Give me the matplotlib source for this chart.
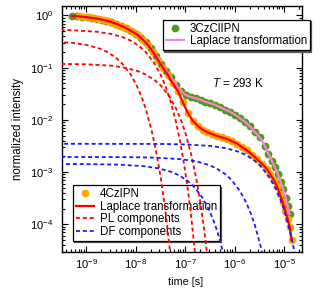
import matplotlib
matplotlib.use('Agg')
import matplotlib.pyplot as plt
from matplotlib.lines import Line2D
from matplotlib.ticker import NullFormatter

plt.rcParams['font.family'] = ['Liberation Sans', 'DejaVu Sans']
plt.rcParams['mathtext.fontset'] = 'custom'
plt.rcParams['mathtext.rm'] = 'Liberation Sans'
plt.rcParams['mathtext.it'] = 'Liberation Sans:italic'

# ---- measured data: 4CzIPN (log10 time, normalized intensity)
t_4cz_log = [-9.15, -9.05, -8.95, -8.85, -8.75, -8.65, -8.55, -8.45, -8.35, -8.25,
             -8.15, -8.05, -7.95, -7.85, -7.75, -7.65, -7.55, -7.45, -7.35, -7.25,
             -7.15, -7.05, -6.95, -6.85, -6.75, -6.65, -6.55, -6.45, -6.35, -6.25,
             -6.15, -6.05, -5.95, -5.85, -5.75, -5.65, -5.55, -5.45, -5.35, -5.28,
             -5.21, -5.15, -5.09, -5.03, -4.98, -4.93, -4.89, -4.85]
i_4cz = [0.96, 0.94, 0.915, 0.89, 0.86, 0.82, 0.775, 0.725, 0.67, 0.61,
         0.545, 0.48, 0.415, 0.34, 0.27, 0.2, 0.14, 0.1, 0.072, 0.05,
         0.036, 0.022, 0.0138, 0.0097, 0.0077, 0.0065, 0.0058, 0.0053, 0.0049, 0.0046,
         0.0043, 0.0039, 0.0035, 0.003, 0.0026, 0.00217, 0.00177, 0.00145, 0.00115, 0.0009,
         0.000706, 0.000542, 0.00038, 0.000267, 0.00018, 0.000126, 8.9e-05, 5.0e-05]

# ---- measured data: 3CzClIPN
t_3cz_log = [-9.29, -9.19, -9.09, -8.99, -8.89, -8.79, -8.69, -8.59, -8.49, -8.39,
             -8.29, -8.19, -8.09, -7.99, -7.89, -7.79, -7.69, -7.59, -7.49, -7.39,
             -7.29, -7.19, -7.09, -6.99, -6.89, -6.79, -6.69, -6.59, -6.49, -6.39,
             -6.29, -6.19, -6.09, -5.99, -5.89, -5.79, -5.69, -5.59, -5.49, -5.39,
             -5.32, -5.25, -5.19, -5.13, -5.07, -5.02, -4.97, -4.93, -4.89]
i_3cz = [0.99, 0.97, 0.95, 0.925, 0.9, 0.87, 0.835, 0.795, 0.75, 0.695,
         0.635, 0.575, 0.51, 0.445, 0.375, 0.305, 0.235, 0.17, 0.12, 0.087,
         0.066, 0.047, 0.036, 0.030, 0.0275, 0.026, 0.0242, 0.0222, 0.0208, 0.0193,
         0.0174, 0.0157, 0.0143, 0.0125, 0.0107, 0.0091, 0.0075, 0.0058, 0.0046, 0.0032,
         0.00225, 0.00165, 0.00125, 0.00092, 0.00065, 0.00047, 0.00032, 0.000224, 0.000157]

# ---- fit curve start (Laplace transformation lines begin slightly before the 4CzIPN points)
fit_4cz_start_log = -9.29
fit_4cz_start_i = 0.985

# ---- PL components (time [s], intensity)
pl1_t = [5.3e-11, 1.59e-10, 5.3e-10, 1.06e-9, 1.855e-9, 2.65e-9, 3.975e-9, 5.3e-9, 7.95e-9,
         1.06e-8, 1.325e-8, 1.59e-8, 2.12e-8, 2.65e-8, 3.18e-8, 3.71e-8, 4.24e-8, 4.77e-8, 5.3e-8]
pl1_i = [0.327, 0.320, 0.299, 0.270, 0.233, 0.200, 0.156, 0.121, 0.0736,
         0.0446, 0.0271, 0.0164, 0.00604, 0.00222, 0.000818, 0.000301, 0.000111, 4.06e-5, 1.50e-5]
pl2_t = [1.6e-10, 4.8e-10, 1.6e-9, 3.2e-9, 5.6e-9, 8e-9, 1.2e-8, 1.6e-8, 2.4e-8, 3.2e-8,
         4e-8, 4.8e-8, 6.4e-8, 8e-8, 9.6e-8, 1.12e-7, 1.28e-7, 1.44e-7, 1.6e-7]
pl2_i = [0.535, 0.524, 0.489, 0.442, 0.381, 0.328, 0.255, 0.199, 0.120, 0.0729,
         0.0443, 0.0269, 0.00988, 0.00364, 0.00134, 0.000492, 0.000181, 6.64e-5, 2.45e-5]
pl3_t = [1.65e-10, 9.9e-10, 3.3e-9, 6.6e-9, 1.155e-8, 1.65e-8, 2.475e-8, 3.3e-8, 4.95e-8,
         6.6e-8, 8.25e-8, 9.9e-8, 1.32e-7, 1.65e-7, 1.98e-7, 2.31e-7, 2.64e-7, 2.97e-7]
pl3_i = [0.119, 0.116, 0.109, 0.0983, 0.0846, 0.0728, 0.0566, 0.0442, 0.0268,
         0.0162, 0.00985, 0.00598, 0.0022, 0.000809, 0.000298, 0.000109, 4.02e-5, 1.48e-5]

# ---- DF components (time [s], intensity)
df1_t = [1.5e-10, 1.5e-9, 4.5e-9, 1.5e-8, 3e-8, 5.25e-8, 7.5e-8, 1.125e-7, 1.5e-7,
         2.25e-7, 3e-7, 3.75e-7, 4.5e-7, 6e-7]
df1_i = [0.00143, 0.001416, 0.001388, 0.001294, 0.001171, 0.001008, 0.000868, 0.000675, 0.000526,
         0.000319, 0.000193, 0.000117, 7.12e-5, 2.62e-5]
df2_t = [8.5e-11, 8.5e-9, 2.55e-8, 8.5e-8, 1.7e-7, 2.975e-7, 4.25e-7, 6.375e-7, 8.5e-7,
         1.275e-6, 1.7e-6, 2.125e-6, 2.55e-6, 3.4e-6, 4.25e-6]
df2_i = [0.00195, 0.00193, 0.00189, 0.00176, 0.0016, 0.00137, 0.00118, 0.00092, 0.000718,
         0.000435, 0.000264, 0.00016, 9.71e-5, 3.57e-5, 1.31e-5]
df3_t = [1e-10, 3.4e-8, 1.02e-7, 3.4e-7, 6.8e-7, 1.19e-6, 1.7e-6, 2.55e-6, 3.4e-6,
         5.1e-6, 6.8e-6, 8.5e-6, 1.02e-5, 1.36e-5, 1.7e-5]
df3_i = [0.00349, 0.003455, 0.003385, 0.003158, 0.002858, 0.00246, 0.002118, 0.001647, 0.001284,
         0.000778, 0.000471, 0.000287, 0.000174, 6.39e-5, 2.35e-5]

pl_components = [(pl1_t, pl1_i), (pl2_t, pl2_i), (pl3_t, pl3_i)]
df_components = [(df1_t, df1_i), (df2_t, df2_i), (df3_t, df3_i)]

# ---- tick positions
x_major_ticks = [1e-9, 1e-8, 1e-7, 1e-6, 1e-5]
y_major_ticks = [1e-4, 1e-3, 1e-2, 1e-1, 1e0]

c_orange = '#ffa600'
c_green = '#4e9a1c'
c_pink = '#ff80d0'
c_red = '#ff0000'
c_blue = '#1a1aff'
dash = (0, (2.2, 1.6))
fs = 8.3
fs_tick = 8.0
fs_xlabel = 7.8

t_4cz = [10 ** v for v in t_4cz_log]
t_3cz = [10 ** v for v in t_3cz_log]
fit_4cz_t = [10 ** fit_4cz_start_log] + t_4cz
fit_4cz_i = [fit_4cz_start_i] + i_4cz

fig = plt.figure(figsize=(3.28, 2.92), dpi=100)
ax = fig.add_axes([0.1890, 0.1370, 0.7326, 0.8408])
ax.set_xscale('log')
ax.set_yscale('log')

ax.plot(t_3cz, i_3cz, 'o', color=c_green, ms=5.6, mew=0, zorder=2)
ax.plot(t_4cz, i_4cz, 'o', color=c_orange, ms=5.6, mew=0, zorder=3)
ax.plot(t_3cz, i_3cz, '-', color=c_pink, lw=1.6, zorder=4)
ax.plot(fit_4cz_t, fit_4cz_i, '-', color=c_red, lw=1.6, zorder=5)
for tt, ii in pl_components:
    ax.plot(tt, ii, ls=dash, color=c_red, lw=1.3, zorder=6)
for tt, ii in df_components:
    ax.plot(tt, ii, ls=dash, color=c_blue, lw=1.3, zorder=6)

ax.set_xlim(10 ** -9.489, 10 ** -4.634)
ax.set_ylim(10 ** -4.531, 10 ** 0.172)
ax.set_xticks(x_major_ticks)
ax.set_yticks(y_major_ticks)
ax.xaxis.set_minor_formatter(NullFormatter())
ax.yaxis.set_minor_formatter(NullFormatter())

ax.tick_params(which='both', direction='in', top=True, right=True, width=0.8)
ax.tick_params(which='major', length=4.5, labelsize=fs_tick)
ax.tick_params(which='minor', length=2.5)
ax.tick_params(axis='x', which='major', pad=3.5)
ax.tick_params(axis='y', which='major', pad=6.5)
for s in ax.spines.values():
    s.set_linewidth(1.0)

ax.set_xlabel('time [s]', fontsize=fs_xlabel)
ax.set_ylabel('normalized intensity', fontsize=fs)
ax.xaxis.set_label_coords(0.515, -0.1)
ax.yaxis.set_label_coords(-0.16, 0.5)

fig.text(211.7 / 328, 1 - 83.3 / 292, '$T$ = 293 K', fontsize=fs, ha='left', va='center')

leg_kw = dict(fontsize=fs, loc='upper left', bbox_transform=fig.transFigure, borderaxespad=0,
              frameon=True, fancybox=False, framealpha=1, edgecolor='black', numpoints=1,
              handlelength=1.6, handletextpad=0.45, borderpad=0.25, labelspacing=0.05,
              shadow={'ox': 1, 'oy': -1, 'color': '0.35', 'alpha': 1})

h1 = [Line2D([], [], marker='o', ls='none', color=c_green, ms=5.6, mew=0),
      Line2D([], [], color=c_pink, lw=1.6)]
leg1 = ax.legend(h1, ['3CzClIPN', 'Laplace transformation'],
                 bbox_to_anchor=(163 / 328, 1 - 20 / 292), **leg_kw)
leg1.get_frame().set_linewidth(0.9)
ax.add_artist(leg1)

h2 = [Line2D([], [], marker='o', ls='none', color=c_orange, ms=5.6, mew=0),
      Line2D([], [], color=c_red, lw=1.6),
      Line2D([], [], color=c_red, lw=1.3, ls=dash),
      Line2D([], [], color=c_blue, lw=1.3, ls=dash)]
leg2 = ax.legend(h2, ['4CzIPN', 'Laplace transformation', 'PL components', 'DF components'],
                 bbox_to_anchor=(73 / 328, 1 - 185.3 / 292), **leg_kw)
leg2.get_frame().set_linewidth(0.9)

fig.savefig('out.png', dpi=100)
